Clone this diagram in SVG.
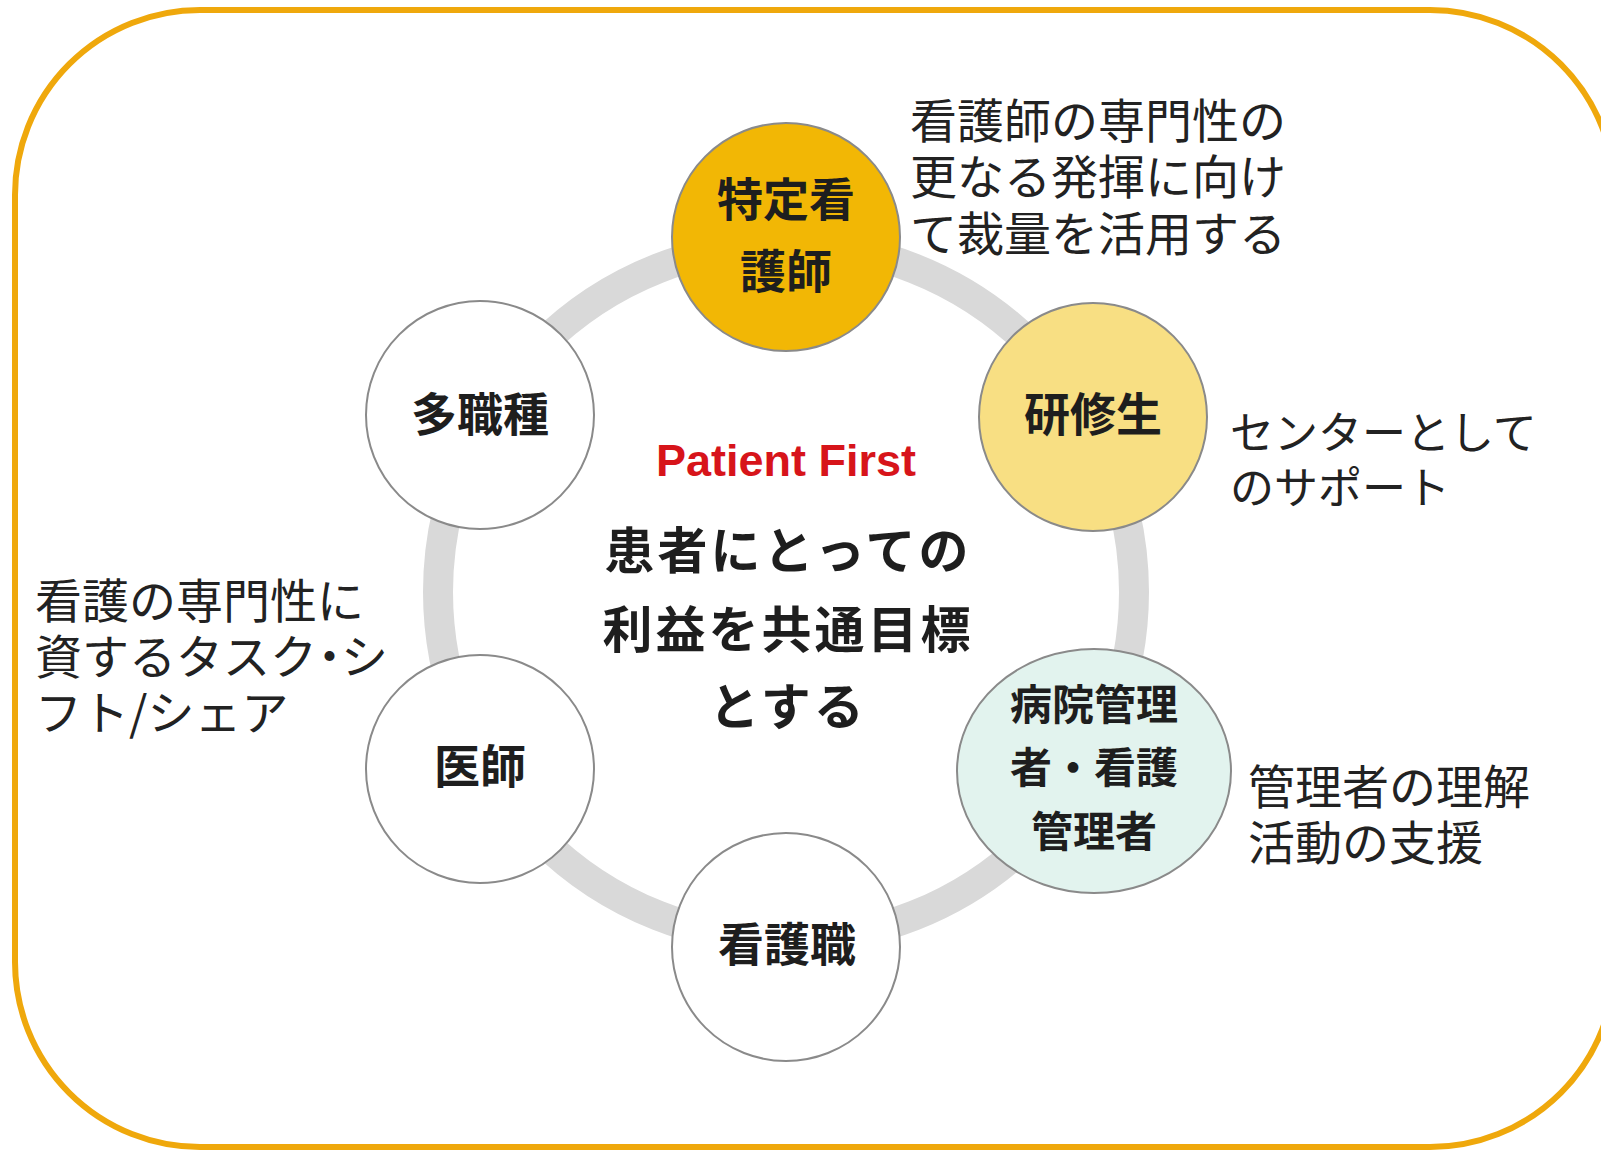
<svg xmlns="http://www.w3.org/2000/svg" width="1601" height="1151" viewBox="0 0 1601 1151">
<style>
.node{stroke:#8a8a8a;stroke-width:2}
.nt{font-family:"Noto Sans CJK JP","Noto Sans",sans-serif;font-weight:700;fill:#1e1e1e;text-anchor:middle}
.ann{font-family:"Noto Sans CJK JP","Noto Sans",sans-serif;font-weight:400;fill:#222;font-size:47px}
.ct{font-family:"Noto Sans CJK JP","Noto Sans",sans-serif;font-weight:700;fill:#1e1e1e;font-size:50px;letter-spacing:3px;text-anchor:middle}
</style>
<rect x="0" y="0" width="1601" height="1151" fill="#ffffff"/>
<rect id="frame" x="15" y="10" width="1600" height="1137" rx="185" ry="185" fill="none" stroke="#EFA80C" stroke-width="6"/>
<g id="connectors">
<circle cx="786" cy="592" r="348" fill="none" stroke="#d9d9d9" stroke-width="30"/>
</g>
<g id="node-tokutei">
<circle class="node" cx="786" cy="237" r="114" fill="#F2B705"/>
<text class="nt" font-size="46" x="786" y="216">特定看<tspan x="786" dy="72">護師</tspan></text>
</g>
<g id="node-kenshusei">
<circle class="node" cx="1093" cy="417" r="114" fill="#F8DF83"/>
<text class="nt" font-size="46" x="1093" y="431">研修生</text>
</g>
<g id="node-kanri">
<ellipse class="node" cx="1094" cy="771" rx="137" ry="122" fill="#E2F3EE"/>
<text class="nt" font-size="42" x="1094" y="720">病院管理<tspan x="1094" dy="63">者・看護</tspan><tspan x="1094" dy="64">管理者</tspan></text>
</g>
<g id="node-kangoshoku">
<circle class="node" cx="786" cy="947" r="114" fill="#ffffff"/>
<text class="nt" font-size="46" x="787" y="961">看護職</text>
</g>
<g id="node-ishi">
<circle class="node" cx="480" cy="769" r="114" fill="#ffffff"/>
<text class="nt" font-size="46" x="480" y="783">医師</text>
</g>
<g id="node-tashokushu">
<circle class="node" cx="480" cy="415" r="114" fill="#ffffff"/>
<text class="nt" font-size="46" x="480" y="431">多職種</text>
</g>
<g id="center">
<text x="786" y="476" font-family="'Liberation Sans',Arial,sans-serif" font-weight="700" font-size="45" fill="#D7141A" text-anchor="middle">Patient First</text>
<text class="ct" x="788" y="569">患者にとっての<tspan x="788" dy="79">利益を共通目標</tspan><tspan x="788" dy="77">とする</tspan></text>
</g>
<g id="annotations">
<text class="ann" x="910" y="138">看護師の専門性の<tspan x="910" dy="56">更なる発揮に向け</tspan><tspan x="910" dy="57">て裁量を活用する</tspan></text>
<text class="ann" x="1230" y="449" style="font-size:44px">センターとして<tspan x="1230" dy="55">のサポート</tspan></text>
<text class="ann" x="35" y="618">看護の専門性に<tspan x="35" dy="56">資するタスク</tspan><tspan dx="-10">・</tspan><tspan dx="-12">シ</tspan><tspan x="35" dy="56">フト/シェア</tspan></text>
<text class="ann" x="1248" y="804">管理者の理解<tspan x="1248" dy="56">活動の支援</tspan></text>
</g>
</svg>
